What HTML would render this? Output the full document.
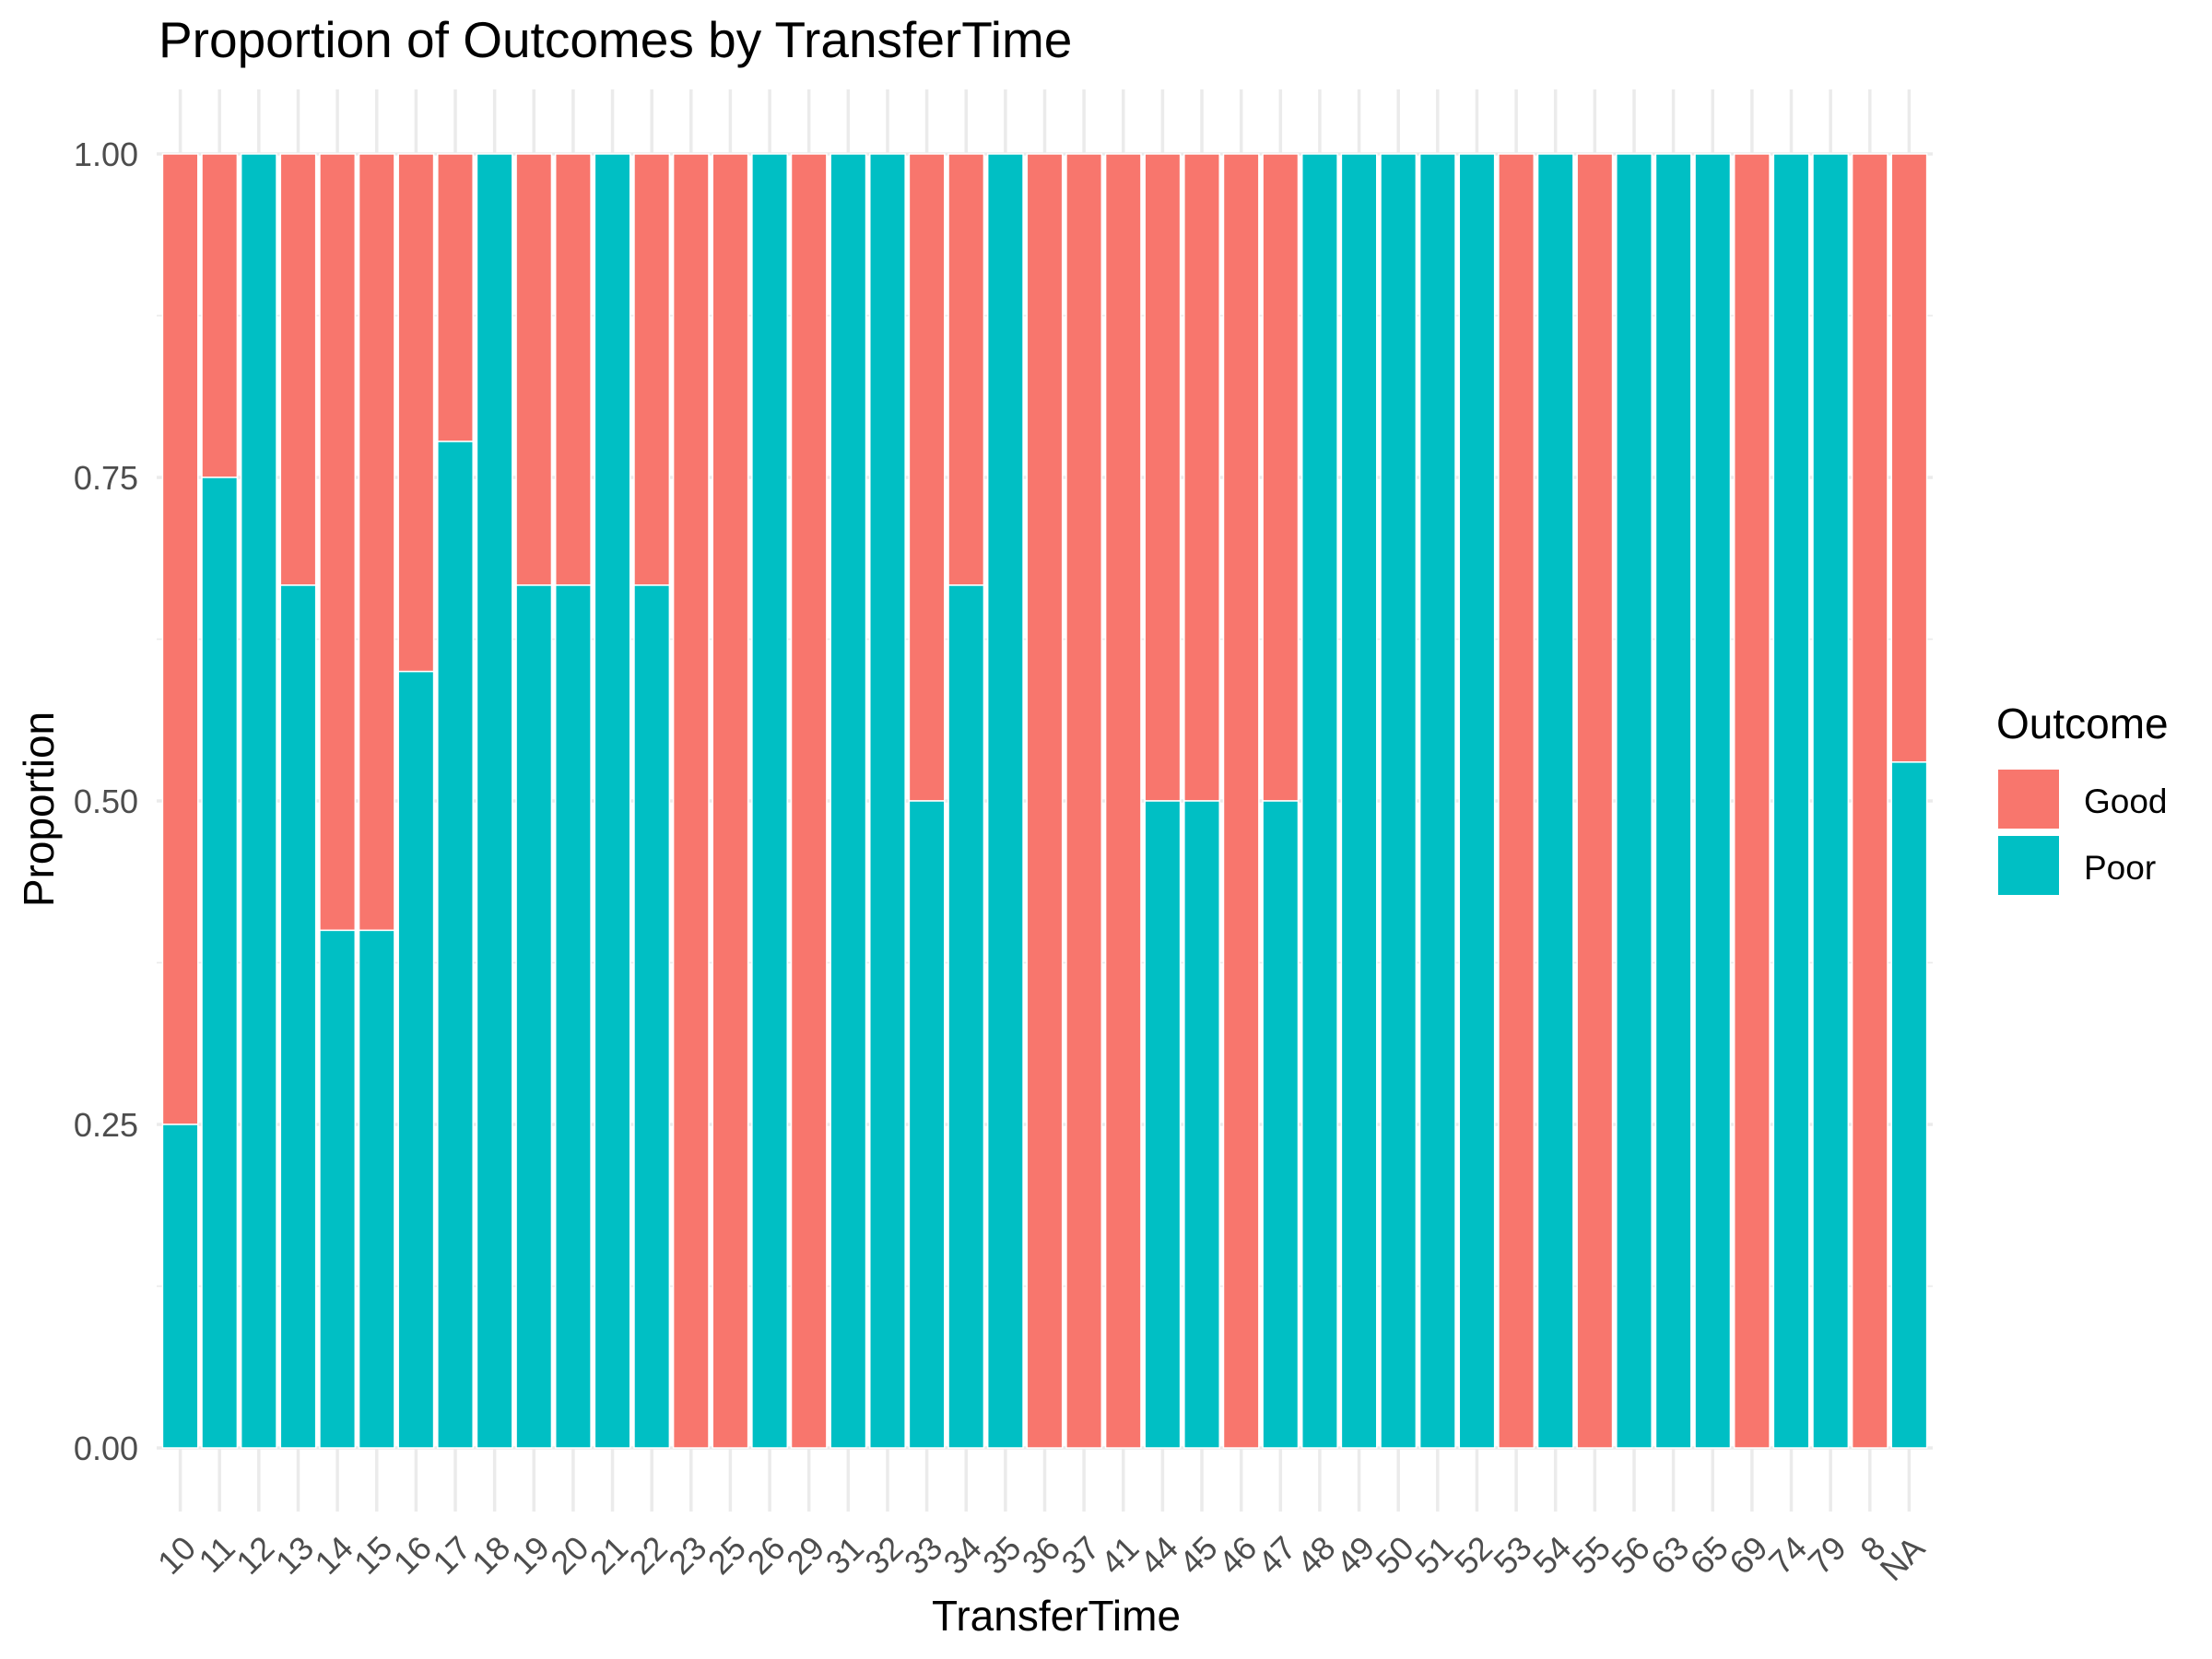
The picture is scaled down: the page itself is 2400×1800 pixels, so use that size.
<!DOCTYPE html>
<html><head><meta charset="utf-8"><style>
html,body{margin:0;padding:0;background:#fff;}
svg{display:block;font-family:"Liberation Sans",Arial,sans-serif;}
</style></head><body>
<svg id="chart" width="2400" height="1800" viewBox="0 0 2400 1800" xmlns="http://www.w3.org/2000/svg">
<rect width="2400" height="1800" fill="#fff"/>
<g id="grid"></g>
<g id="bars"></g>
<g id="axes"></g>
<text x="172" y="62" font-size="55" fill="#000">Proportion of Outcomes by TransferTime</text>
<text transform="translate(58,878) rotate(-90)" text-anchor="middle" font-size="46" fill="#000">Proportion</text>
<text x="1146" y="1769" text-anchor="middle" font-size="46" fill="#000">TransferTime</text>
<g transform="translate(-25,-9)">
<text x="2191" y="810" font-size="46" fill="#000">Outcome</text>
<rect x="2193" y="844" width="66" height="64" fill="#F8766D"/>
<rect x="2193" y="916" width="66" height="64" fill="#00BFC4"/>
<text x="2286" y="891" font-size="37" fill="#000">Good</text>
<text x="2286" y="963" font-size="37" fill="#000">Poor</text>
</g>
</svg>
<script>
const categories = ["10","11","12","13","14","15","16","17","18","19","20","21","22","23","25","26","29","31","32","33","34","35","36","37","41","44","45","46","47","48","49","50","51","52","53","54","55","56","63","65","69","74","79","8","NA"];
const poorValues = [0.25,0.75,1,0.6667,0.4,0.4,0.6,0.7778,1,0.6667,0.6667,1,0.6667,0,0,1,0,1,1,0.5,0.6667,1,0,0,0,0.5,0.5,0,0.5,1,1,1,1,1,0,1,0,1,1,1,0,1,1,0,0.53];
const goodValues = poorValues.map(v => 1 - v);
const yTicks = [0, 0.25, 0.5, 0.75, 1];
const yTickLabels = ["0.00","0.25","0.50","0.75","1.00"];

const NS = "http://www.w3.org/2000/svg";
const panelL = 170, panelR = 2097, panelT = 97, panelB = 1640;
const y0 = 1571, y1 = 167;
const n = categories.length;
const pitch = (panelR - panelL) / (n + 0.2);
function xScale(i){ return panelL + pitch * 0.6 + i * pitch; }
function yScale(v){ return y0 + (y1 - y0) * v; }
function mk(tag, attrs, parent){
  const e = document.createElementNS(NS, tag);
  for (const k in attrs) e.setAttribute(k, attrs[k]);
  parent.appendChild(e);
  return e;
}
const grid = document.getElementById('grid');
const bars = document.getElementById('bars');
const axes = document.getElementById('axes');

for (let k = 0; k < yTicks.length - 1; k++) {
  const m = (yTicks[k] + yTicks[k+1]) / 2;
  const l = mk('line', {x1: panelL, x2: panelR, y1: yScale(m), y2: yScale(m), stroke: '#ebebeb', 'stroke-width': 1.8}, grid);
  
  
}
yTicks.forEach((t, k) => {
  const l = mk('line', {x1: panelL, x2: panelR, y1: yScale(t), y2: yScale(t), stroke: '#ebebeb', 'stroke-width': 3.5}, grid);
  
  
  const tx = mk('text', {x: 150, y: yScale(t) + 13, 'text-anchor': 'end', 'font-size': 36, fill: '#4d4d4d'}, axes);
  tx.textContent = yTickLabels[k];
  
  
});
categories.forEach((c, i) => {
  const cx = xScale(i);
  const l = mk('line', {x1: cx, x2: cx, y1: panelT, y2: panelB, stroke: '#ebebeb', 'stroke-width': 3.5}, grid);
  
  
  const w = pitch * 0.9;
  const pv = poorValues[i], gv = goodValues[i];
  if (gv > 0) {
    const r = mk('rect', {x: cx - w/2, y: yScale(pv + gv), width: w, height: yScale(pv) - yScale(pv + gv), fill: '#F8766D', stroke: '#fff', 'stroke-width': 1.5}, bars);
    
    
  }
  if (pv > 0) {
    const r = mk('rect', {x: cx - w/2, y: yScale(pv), width: w, height: yScale(0) - yScale(pv), fill: '#00BFC4', stroke: '#fff', 'stroke-width': 1.5}, bars);
    
    
  }
  const tx = mk('text', {transform: 'translate(' + (cx + 19) + ',1682) rotate(-45)', 'text-anchor': 'end', 'font-size': 36, fill: '#4d4d4d'}, axes);
  tx.textContent = c;
  
  
});
</script>
</body></html>
